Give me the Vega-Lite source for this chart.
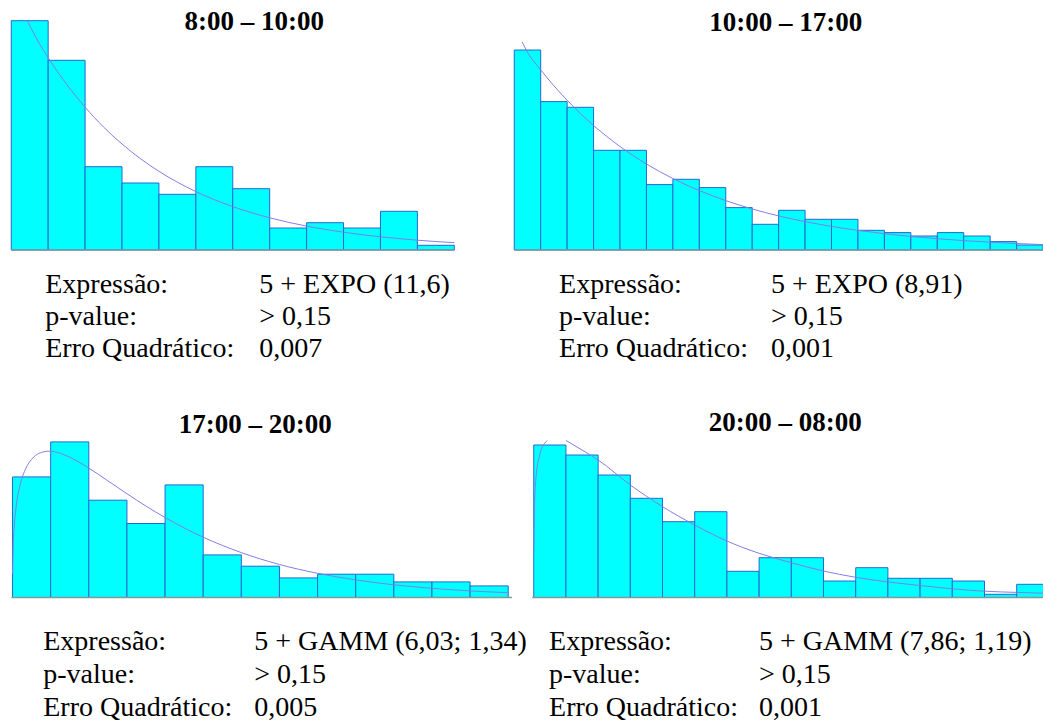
{
  "$schema": "https://vega.github.io/schema/vega-lite/v6.json",
  "background": "white",
  "padding": {"left": 10.25, "top": 7, "right": 0, "bottom": 0},
  "config": {
    "view": {"stroke": null},
    "title": {"font": "Liberation Serif", "fontSize": 27, "fontWeight": "bold", "color": "#000000", "anchor": "middle", "baseline": "alphabetic"}
  },
  "datasets": {
    "bars1": [
      {"start": 0, "end": 1, "freq": 229.3}, {"start": 1, "end": 2, "freq": 189.7}, {"start": 2, "end": 3, "freq": 83.3},
      {"start": 3, "end": 4, "freq": 67}, {"start": 4, "end": 5, "freq": 55.7}, {"start": 5, "end": 6, "freq": 83.3},
      {"start": 6, "end": 7, "freq": 61.3}, {"start": 7, "end": 8, "freq": 22}, {"start": 8, "end": 9, "freq": 27.3},
      {"start": 9, "end": 10, "freq": 22}, {"start": 10, "end": 11, "freq": 38.7}, {"start": 11, "end": 12, "freq": 4.7}
    ],
    "curve1": [
      {"x": 0.44, "density": 229}, {"x": 0.75, "density": 207.1}, {"x": 1, "density": 192.3}, {"x": 1.5, "density": 165.7},
      {"x": 2, "density": 142.8}, {"x": 2.5, "density": 123.0}, {"x": 3, "density": 106.0}, {"x": 3.5, "density": 91.3},
      {"x": 4, "density": 78.7}, {"x": 4.5, "density": 67.8}, {"x": 5, "density": 58.4}, {"x": 6, "density": 43.4},
      {"x": 7, "density": 32.2}, {"x": 8, "density": 23.9}, {"x": 9, "density": 17.8}, {"x": 10, "density": 13.2},
      {"x": 11, "density": 9.8}, {"x": 12, "density": 7.3}
    ],
    "bars2": [
      {"start": 0, "end": 1, "freq": 200}, {"start": 1, "end": 2, "freq": 148.4}, {"start": 2, "end": 3, "freq": 142.7},
      {"start": 3, "end": 4, "freq": 99.7}, {"start": 4, "end": 5, "freq": 99.7}, {"start": 5, "end": 6, "freq": 65.4},
      {"start": 6, "end": 7, "freq": 70.7}, {"start": 7, "end": 8, "freq": 62.4}, {"start": 8, "end": 9, "freq": 42.4},
      {"start": 9, "end": 10, "freq": 25.7}, {"start": 10, "end": 11, "freq": 39.7}, {"start": 11, "end": 12, "freq": 30.7},
      {"start": 12, "end": 13, "freq": 30.7}, {"start": 13, "end": 14, "freq": 19.7}, {"start": 14, "end": 15, "freq": 17.4},
      {"start": 15, "end": 16, "freq": 14}, {"start": 16, "end": 17, "freq": 17.4}, {"start": 17, "end": 18, "freq": 14},
      {"start": 18, "end": 19, "freq": 8.4}, {"start": 19, "end": 20, "freq": 5}
    ],
    "curve2": [
      {"x": 0.3, "density": 208}, {"x": 0.5, "density": 197.7}, {"x": 1, "density": 180.2}, {"x": 1.5, "density": 164.2},
      {"x": 2, "density": 149.8}, {"x": 2.5, "density": 136.5}, {"x": 3, "density": 124.5}, {"x": 4, "density": 103.5},
      {"x": 5, "density": 86.0}, {"x": 6, "density": 71.5}, {"x": 7, "density": 59.4}, {"x": 8, "density": 49.4},
      {"x": 9, "density": 41.0}, {"x": 10, "density": 34.1}, {"x": 11, "density": 28.4}, {"x": 12, "density": 23.6},
      {"x": 13, "density": 19.6}, {"x": 14, "density": 16.3}, {"x": 15, "density": 13.5}, {"x": 16, "density": 11.3},
      {"x": 17, "density": 9.4}, {"x": 18, "density": 7.8}, {"x": 19, "density": 6.5}, {"x": 20, "density": 5.4}
    ],
    "bars3": [
      {"start": 0, "end": 1, "freq": 120.6}, {"start": 1, "end": 2, "freq": 155.6}, {"start": 2, "end": 3, "freq": 97.3},
      {"start": 3, "end": 4, "freq": 74}, {"start": 4, "end": 5, "freq": 112.6}, {"start": 5, "end": 6, "freq": 42.6},
      {"start": 6, "end": 7, "freq": 31.3}, {"start": 7, "end": 8, "freq": 19.6}, {"start": 8, "end": 9, "freq": 23.3},
      {"start": 9, "end": 10, "freq": 23.3}, {"start": 10, "end": 11, "freq": 15.6}, {"start": 11, "end": 12, "freq": 15.6},
      {"start": 12, "end": 13, "freq": 11.6}
    ],
    "curve3": [
      {"x": 0, "density": 24}, {"x": 0.02, "density": 55}, {"x": 0.05, "density": 74.2}, {"x": 0.1, "density": 92.3},
      {"x": 0.2, "density": 112.7}, {"x": 0.35, "density": 129.2}, {"x": 0.5, "density": 138.2}, {"x": 0.7, "density": 144.2},
      {"x": 0.95, "density": 146.3}, {"x": 1.25, "density": 144.2}, {"x": 1.5, "density": 140.3}, {"x": 2, "density": 129.4},
      {"x": 2.5, "density": 116.7}, {"x": 3, "density": 103.8}, {"x": 3.5, "density": 91.4}, {"x": 4, "density": 80.0},
      {"x": 4.5, "density": 69.6}, {"x": 5, "density": 60.3}, {"x": 6, "density": 44.9}, {"x": 7, "density": 33.0},
      {"x": 8, "density": 24.2}, {"x": 9, "density": 17.6}, {"x": 10, "density": 12.7}, {"x": 11, "density": 9.2},
      {"x": 12, "density": 6.6}, {"x": 13, "density": 4.8}
    ],
    "bars4": [
      {"start": 0, "end": 1, "freq": 152.5}, {"start": 1, "end": 2, "freq": 142.5}, {"start": 2, "end": 3, "freq": 122.5},
      {"start": 3, "end": 4, "freq": 99.2}, {"start": 4, "end": 5, "freq": 75.8}, {"start": 5, "end": 6, "freq": 85.8},
      {"start": 6, "end": 7, "freq": 26.2}, {"start": 7, "end": 8, "freq": 39.8}, {"start": 8, "end": 9, "freq": 39.8},
      {"start": 9, "end": 10, "freq": 16.5}, {"start": 10, "end": 11, "freq": 29.8}, {"start": 11, "end": 12, "freq": 19.2},
      {"start": 12, "end": 13, "freq": 19.2}, {"start": 13, "end": 14, "freq": 16.5}, {"start": 14, "end": 15, "freq": 3.2},
      {"start": 15, "end": 16, "freq": 13.2}
    ],
    "curve4": [
      {"seg": "a", "x": 0, "density": 47.5}, {"seg": "a", "x": 0.019, "density": 87.5}, {"seg": "a", "x": 0.071, "density": 120.8},
      {"seg": "a", "x": 0.174, "density": 140.8}, {"seg": "a", "x": 0.258, "density": 150}, {"seg": "a", "x": 0.382, "density": 155.8},
      {"seg": "a", "x": 0.413, "density": 157},
      {"seg": "b", "x": 1.003, "density": 157}, {"seg": "b", "x": 1.5, "density": 147.5}, {"seg": "b", "x": 2, "density": 137.5},
      {"seg": "b", "x": 3, "density": 112.5}, {"seg": "b", "x": 4, "density": 90.8}, {"seg": "b", "x": 5, "density": 72.5},
      {"seg": "b", "x": 6, "density": 56.5}, {"seg": "b", "x": 7, "density": 44.2}, {"seg": "b", "x": 8, "density": 34.8},
      {"seg": "b", "x": 9, "density": 26.5}, {"seg": "b", "x": 10, "density": 20.2}, {"seg": "b", "x": 11, "density": 15.6},
      {"seg": "b", "x": 12, "density": 12}, {"seg": "b", "x": 13, "density": 8.7}, {"seg": "b", "x": 14, "density": 6.3},
      {"seg": "b", "x": 15, "density": 5.1}, {"seg": "b", "x": 15.85, "density": 4.3}
    ],
    "table1": [
      {"row": 1, "col": "label", "text": "Expressão:"}, {"row": 1, "col": "value", "text": "5 + EXPO (11,6)"},
      {"row": 2, "col": "label", "text": "p-value:"}, {"row": 2, "col": "value", "text": "> 0,15"},
      {"row": 3, "col": "label", "text": "Erro Quadrático:"}, {"row": 3, "col": "value", "text": "0,007"}
    ],
    "table2": [
      {"row": 1, "col": "label", "text": "Expressão:"}, {"row": 1, "col": "value", "text": "5 + EXPO (8,91)"},
      {"row": 2, "col": "label", "text": "p-value:"}, {"row": 2, "col": "value", "text": "> 0,15"},
      {"row": 3, "col": "label", "text": "Erro Quadrático:"}, {"row": 3, "col": "value", "text": "0,001"}
    ],
    "table3": [
      {"row": 1, "col": "label", "text": "Expressão:"}, {"row": 1, "col": "value", "text": "5 + GAMM (6,03; 1,34)"},
      {"row": 2, "col": "label", "text": "p-value:"}, {"row": 2, "col": "value", "text": "> 0,15"},
      {"row": 3, "col": "label", "text": "Erro Quadrático:"}, {"row": 3, "col": "value", "text": "0,005"}
    ],
    "table4": [
      {"row": 1, "col": "label", "text": "Expressão:"}, {"row": 1, "col": "value", "text": "5 + GAMM (7,86; 1,19)"},
      {"row": 2, "col": "label", "text": "p-value:"}, {"row": 2, "col": "value", "text": "> 0,15"},
      {"row": 3, "col": "label", "text": "Erro Quadrático:"}, {"row": 3, "col": "value", "text": "0,001"}
    ]
  },
  "columns": 2,
  "align": {"row": "each", "column": "each"},
  "bounds": "flush",
  "spacing": {"row": 31.25, "column": 0},
  "concat": [
    {
      "width": 502.2, "height": 230,
      "title": {"text": "8:00 – 10:00", "dx": -8, "offset": -17},
      "layer": [
        {"data": {"name": "bars1"}, "mark": {"type": "rect", "fill": "#00ffff", "stroke": "#2468d0", "strokeWidth": 1},
          "encoding": {
            "x": {"field": "start", "type": "quantitative", "scale": {"domain": [0, 13.602], "nice": false, "zero": false}, "axis": null},
            "x2": {"field": "end"},
            "y": {"field": "freq", "type": "quantitative", "scale": {"domain": [0, 230], "nice": false}, "axis": null},
            "y2": {"datum": 0}}},
        {"data": {"name": "curve1"}, "mark": {"type": "line", "color": "#7f7fe6", "strokeWidth": 1, "interpolate": "monotone"},
          "encoding": {
            "x": {"field": "x", "type": "quantitative", "scale": {"domain": [0, 13.602], "nice": false, "zero": false}, "axis": null},
            "y": {"field": "density", "type": "quantitative", "scale": {"domain": [0, 230], "nice": false}, "axis": null}}},
        {"data": {"values": [{}]}, "mark": {"type": "rule", "color": "#7f9c9c", "strokeWidth": 1.5},
          "encoding": {"x": {"datum": 0, "type": "quantitative"}, "x2": {"datum": 12}, "y": {"datum": 0, "type": "quantitative"}}}
      ]
    },
    {
      "width": 528.8, "height": 230,
      "title": {"text": "10:00 – 17:00", "dx": 7, "offset": -17},
      "layer": [
        {"data": {"name": "bars2"}, "mark": {"type": "rect", "fill": "#00ffff", "stroke": "#2468d0", "strokeWidth": 1},
          "encoding": {
            "x": {"field": "start", "type": "quantitative", "scale": {"domain": [0, 20], "nice": false, "zero": false}, "axis": null},
            "x2": {"field": "end"},
            "y": {"field": "freq", "type": "quantitative", "scale": {"domain": [0, 230], "nice": false}, "axis": null},
            "y2": {"datum": 0}}},
        {"data": {"name": "curve2"}, "mark": {"type": "line", "color": "#7f7fe6", "strokeWidth": 1, "interpolate": "monotone"},
          "encoding": {
            "x": {"field": "x", "type": "quantitative", "scale": {"domain": [0, 20], "nice": false, "zero": false}, "axis": null},
            "y": {"field": "density", "type": "quantitative", "scale": {"domain": [0, 230], "nice": false}, "axis": null}}},
        {"data": {"values": [{}]}, "mark": {"type": "rule", "color": "#7f9c9c", "strokeWidth": 1.5},
          "encoding": {"x": {"datum": 0, "type": "quantitative"}, "x2": {"datum": 20}, "y": {"datum": 0, "type": "quantitative"}}}
      ]
    },
    {
      "width": 502.2, "height": 128,
      "data": {"name": "table1"},
      "mark": {"type": "text", "align": "left", "baseline": "alphabetic", "font": "Liberation Serif", "fontSize": 28, "color": "#000000"},
      "encoding": {
        "x": {"field": "col", "type": "nominal", "scale": {"type": "point", "domain": ["label", "value"], "padding": 0.6734, "align": 0.118}, "axis": null},
        "y": {"field": "row", "type": "ordinal", "scale": {"type": "point", "domain": [1, 2, 3], "padding": 1, "align": 0.1836}, "axis": null},
        "text": {"field": "text"}
      }
    },
    {
      "width": 528.8, "height": 128,
      "data": {"name": "table2"},
      "mark": {"type": "text", "align": "left", "baseline": "alphabetic", "font": "Liberation Serif", "fontSize": 28, "color": "#000000"},
      "encoding": {
        "x": {"field": "col", "type": "nominal", "scale": {"type": "point", "domain": ["label", "value"], "padding": 0.7472, "align": 0.1414}, "axis": null},
        "y": {"field": "row", "type": "ordinal", "scale": {"type": "point", "domain": [1, 2, 3], "padding": 1, "align": 0.1836}, "axis": null},
        "text": {"field": "text"}
      }
    },
    {
      "width": 502.2, "height": 157,
      "title": {"text": "17:00 – 20:00", "dx": -7, "offset": 1.5},
      "layer": [
        {"data": {"name": "bars3"}, "mark": {"type": "rect", "fill": "#00ffff", "stroke": "#2468d0", "strokeWidth": 1},
          "encoding": {
            "x": {"field": "start", "type": "quantitative", "scale": {"domain": [-0.034, 13.137], "nice": false, "zero": false}, "axis": null},
            "x2": {"field": "end"},
            "y": {"field": "freq", "type": "quantitative", "scale": {"domain": [0, 157], "nice": false}, "axis": null},
            "y2": {"datum": 0}}},
        {"data": {"name": "curve3"}, "mark": {"type": "line", "color": "#7f7fe6", "strokeWidth": 1, "interpolate": "monotone"},
          "encoding": {
            "x": {"field": "x", "type": "quantitative", "scale": {"domain": [-0.034, 13.137], "nice": false, "zero": false}, "axis": null},
            "y": {"field": "density", "type": "quantitative", "scale": {"domain": [0, 157], "nice": false}, "axis": null}}},
        {"data": {"values": [{}]}, "mark": {"type": "rule", "color": "#7f9c9c", "strokeWidth": 1.5},
          "encoding": {"x": {"datum": -0.03, "type": "quantitative"}, "x2": {"datum": 13.1}, "y": {"datum": 0, "type": "quantitative"}}}
      ]
    },
    {
      "width": 529.8, "height": 157,
      "title": {"text": "20:00 – 08:00", "dx": 6, "offset": 1.5},
      "layer": [
        {"data": {"name": "bars4"}, "mark": {"type": "rect", "fill": "#00ffff", "stroke": "#2468d0", "strokeWidth": 1},
          "encoding": {
            "x": {"field": "start", "type": "quantitative", "scale": {"domain": [-0.6056, 15.85], "nice": false, "zero": false, "clamp": true}, "axis": null},
            "x2": {"field": "end"},
            "y": {"field": "freq", "type": "quantitative", "scale": {"domain": [0, 157], "nice": false}, "axis": null},
            "y2": {"datum": 0}}},
        {"data": {"name": "curve4"}, "mark": {"type": "line", "color": "#7f7fe6", "strokeWidth": 1, "interpolate": "monotone"},
          "encoding": {
            "x": {"field": "x", "type": "quantitative", "scale": {"domain": [-0.6056, 15.85], "nice": false, "zero": false, "clamp": true}, "axis": null},
            "y": {"field": "density", "type": "quantitative", "scale": {"domain": [0, 157], "nice": false}, "axis": null},
            "detail": {"field": "seg", "type": "nominal"}}},
        {"data": {"values": [{}]}, "mark": {"type": "rule", "color": "#7f9c9c", "strokeWidth": 1.5},
          "encoding": {"x": {"datum": -0.05, "type": "quantitative"}, "x2": {"datum": 15.85}, "y": {"datum": 0, "type": "quantitative"}}}
      ]
    },
    {
      "width": 502.2, "height": 92,
      "data": {"name": "table3"},
      "mark": {"type": "text", "align": "left", "baseline": "alphabetic", "font": "Liberation Serif", "fontSize": 28, "color": "#000000"},
      "encoding": {
        "x": {"field": "col", "type": "nominal", "scale": {"type": "point", "domain": ["label", "value"], "padding": 0.69, "align": 0.1099}, "axis": null},
        "y": {"field": "row", "type": "ordinal", "scale": {"type": "point", "domain": [1, 2, 3], "padding": 0.394, "align": 0.817}, "axis": null},
        "text": {"field": "text"}
      }
    },
    {
      "width": 529.8, "height": 92,
      "data": {"name": "table4"},
      "mark": {"type": "text", "align": "left", "baseline": "alphabetic", "font": "Liberation Serif", "fontSize": 28, "color": "#000000"},
      "encoding": {
        "x": {"field": "col", "type": "nominal", "scale": {"type": "point", "domain": ["label", "value"], "padding": 0.7614, "align": 0.1088}, "axis": null},
        "y": {"field": "row", "type": "ordinal", "scale": {"type": "point", "domain": [1, 2, 3], "padding": 0.394, "align": 0.817}, "axis": null},
        "text": {"field": "text"}
      }
    }
  ]
}
